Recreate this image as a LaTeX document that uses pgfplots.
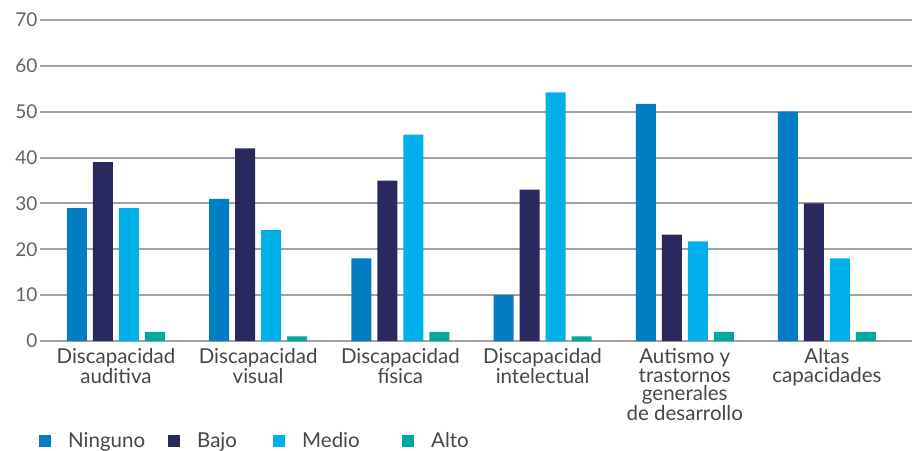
\documentclass[border=0pt]{standalone}
\usepackage{fontspec}
\setmainfont{Lato}
\usepackage{pgfplots}
\pgfplotsset{compat=1.18}
\definecolor{cNinguno}{RGB}{0,125,195}
\definecolor{cBajo}{RGB}{41,40,95}
\definecolor{cMedio}{RGB}{0,176,234}
\definecolor{cAlto}{RGB}{0,169,157}
\definecolor{cGrid}{RGB}{160,160,165}
\definecolor{cText}{RGB}{70,70,70}
\begin{document}
\begin{tikzpicture}
\begin{axis}[
  name=ax,
  scale only axis,
  width=872pt, height=321pt,
  xmin=-0.534, xmax=5.598,
  ymin=0, ymax=70,
  ytick={0,10,...,70},
  xtick={0,1,2,3,4,5},
  xticklabels={Discapacidad\\auditiva, Discapacidad\\visual, Discapacidad\\física, Discapacidad\\intelectual, Autismo y\\trastornos\\generales\\de desarrollo, Altas\\capacidades},
  xticklabel style={align=center, font=\fontsize{20.5}{18.5}\selectfont, text=cText, yshift=-4pt},
  yticklabel style={font=\fontsize{19}{20}\selectfont, text=cText!85, xshift=1pt},
  /pgf/number format/assume math mode=true,
  axis line style={draw=none},
  major tick length=0pt,
  ymajorgrids,
  grid style={cGrid, line width=2pt},
  ybar, bar width=20pt,
  legend style={at={(0,0)}, anchor=west, xshift=-4pt, yshift=-100pt, draw=none, fill=none,
    legend columns=-1, font=\fontsize{20.5}{20}\selectfont, text=cText,
    /tikz/every odd column/.append style={column sep=6pt}},
  legend image code/.code={\fill (0pt,-6pt) rectangle (12pt,6pt);},
  clip=false,
]
\addplot[fill=cNinguno, draw=none, bar shift=-39pt] coordinates {(0,29) (1,31) (2,18) (3,10) (4,51.7) (5,50)};
\addplot[fill=cBajo, draw=none, bar shift=-13pt] coordinates {(0,39) (1,42) (2,35) (3,33) (4,23.2) (5,30)};
\addplot[fill=cMedio, draw=none, bar shift=13pt] coordinates {(0,29) (1,24.2) (2,45) (3,54.2) (4,21.7) (5,18)};
\addplot[fill=cAlto, draw=none, bar shift=39pt] coordinates {(0,2) (1,1) (2,2) (3,1) (4,2) (5,2)};
\addlegendentry{\hspace{9pt}\makebox[98pt][l]{Ninguno}}
\addlegendentry{\hspace{9pt}\makebox[74pt][l]{Bajo}}
\addlegendentry{\hspace{9pt}\makebox[98pt][l]{Medio}}
\addlegendentry{\hspace{9pt}Alto}
\end{axis}
\pgfresetboundingbox
\path (-40pt,-109pt) rectangle (872pt,341pt);
\end{tikzpicture}
\end{document}
